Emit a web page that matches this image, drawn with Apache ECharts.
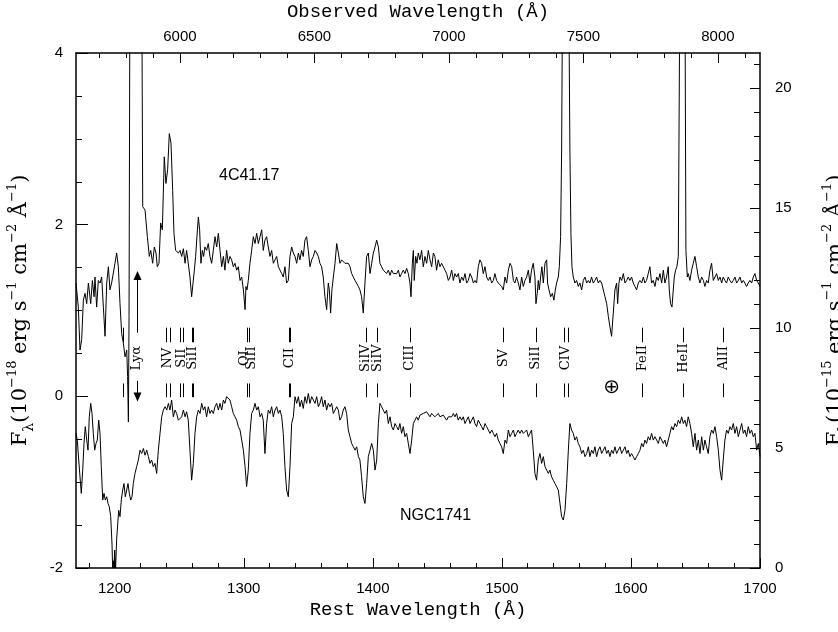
<!DOCTYPE html>
<html><head><meta charset="utf-8">
<script src="https://cdn.jsdelivr.net/npm/echarts@6/dist/echarts.min.js"></script>
<style>html,body{margin:0;padding:0;background:#fff}#c{width:838px;height:632px}</style>
</head><body><div id="c"></div>
<script>
// ---------- axes ----------
const ONE_PLUS_Z = 4.798;
const REST_MIN = 1170, REST_MAX = 1700;
const LEFT_MIN = -2, LEFT_MAX = 4;
const RIGHT_MIN = 0, RIGHT_MAX = 21.46;
const restMajor = [1200,1300,1400,1500,1600,1700];
const restMinor = [1180,1200,1220,1240,1260,1280,1300,1320,1340,1360,1380,1400,1420,1440,1460,1480,1500,1520,1540,1560,1580,1600,1620,1640,1660,1680,1700];
const obsMajor = [6000,6500,7000,7500,8000];
const obsMinor = [5700,5800,5900,6000,6100,6200,6300,6400,6500,6600,6700,6800,6900,7000,7100,7200,7300,7400,7500,7600,7700,7800,7900,8000,8100];
const leftMajor = [-2,0,2,4];
const leftMinor = [-1.5,-1,-0.5,0.5,1,1.5,2.5,3,3.5];
const rightMajor = [0,5,10,15,20];
const rightMinor = [1,2,3,4,6,7,8,9,11,12,13,14,16,17,18,19,21];

// ---------- spectra: [rest wavelength (Å), flux] ----------
// 4C41.17 (left axis, 1e-18)
const spec4C41 = [
[1170.0,1.32],[1171.8,1.04],[1173.1,0.54],[1174.4,0.66],[1175.7,1.12],[1177.0,1.20],[1178.3,1.08],[1179.6,1.32],[1181.4,1.08],[1182.7,1.35],[1184.0,1.16],[1184.7,1.39],[1186.0,1.04],[1187.3,1.35],[1188.6,1.32],[1189.9,1.39],[1191.2,1.04],[1192.5,0.70],[1193.8,1.32],[1195.1,1.51],[1196.3,1.24],[1197.6,1.32],[1198.9,1.32],[1200.2,1.55],[1201.5,1.67],[1202.8,1.51],[1204.1,1.08],[1205.4,0.73],[1206.7,0.62],[1208.0,0.46],[1209.3,0.54],[1210.0,0.23],[1210.6,-0.30],[1211.1,0.93],[1211.9,5.5],[1213.5,9.0],[1216.0,10.0],[1218.5,8.0],[1220.9,5.0],[1221.7,2.21],[1223.5,2.17],[1225.3,1.86],[1226.8,1.63],[1227.9,1.70],[1229.4,1.55],[1230.7,1.74],[1232.0,1.67],[1233.0,1.51],[1234.3,1.55],[1235.6,2.02],[1236.9,1.94],[1238.4,2.79],[1239.7,2.48],[1241.0,2.64],[1242.3,3.06],[1243.6,2.95],[1244.9,2.40],[1245.9,1.90],[1247.2,1.70],
[1249.3,1.67],[1250.6,1.70],[1251.9,1.63],[1253.2,1.72],[1254.5,1.55],[1255.7,1.70],[1257.0,1.55],[1258.3,1.39],[1259.6,1.16],[1260.4,1.14],[1261.7,1.47],[1262.7,1.63],[1263.7,1.86],[1264.8,2.09],[1265.8,1.94],[1266.8,1.55],[1267.9,1.70],[1268.9,1.63],[1269.9,1.74],[1271.2,1.70],[1272.5,1.78],[1273.8,1.63],[1275.1,1.55],[1276.4,1.70],[1277.7,1.86],[1279.0,1.74],[1280.3,1.90],[1281.6,1.70],[1282.9,1.51],[1284.2,1.63],[1285.4,1.47],[1286.7,1.70],[1288.0,1.55],[1289.3,1.63],[1290.6,1.59],[1291.9,1.51],[1293.2,1.55],[1294.5,1.47],[1295.8,1.51],[1297.1,1.35],[1298.4,1.39],[1299.7,1.24],[1301.0,1.01],[1301.7,1.28],[1302.5,1.24],[1303.5,1.35],[1304.8,1.55],[1306.1,1.70],[1307.4,1.86],[1308.7,1.78],[1310.0,1.90],[1311.3,1.78],[1312.6,1.86],[1313.9,1.94],[1315.1,1.70],[1316.4,1.82],[1317.7,1.86],[1319.0,1.74],[1320.3,1.63],[1321.6,1.70],[1322.9,1.55],[1324.2,1.59],[1325.5,1.63],[1326.8,1.51],[1328.1,1.47],[1329.4,1.43],[1330.6,1.39],[1331.9,1.51],[1333.2,1.32],[1334.5,1.35],[1335.8,1.63],[1337.1,1.74],[1338.4,1.67],
[1339.7,1.63],[1341.0,1.55],[1342.3,1.67],[1343.5,1.59],[1344.8,1.70],[1346.1,1.63],[1347.4,1.82],[1348.7,1.86],[1350.0,1.70],[1351.3,1.51],[1352.6,1.59],[1353.9,1.63],[1355.2,1.70],[1356.5,1.67],[1357.8,1.63],[1359.0,1.55],[1360.3,1.51],[1361.6,1.39],[1362.9,1.16],[1364.2,1.01],[1365.5,1.32],[1366.3,1.24],[1367.3,0.97],[1368.3,1.24],[1369.4,1.39],[1370.7,1.55],[1372.0,1.78],[1373.3,1.67],[1374.5,1.55],[1375.8,1.59],[1377.1,1.59],[1378.4,1.55],[1379.7,1.57],[1381.0,1.55],[1382.3,1.51],[1383.6,1.43],[1384.9,1.39],[1386.2,1.35],[1387.5,1.35],[1388.8,1.28],[1390.0,1.24],[1391.3,1.16],[1392.6,0.97],[1393.9,1.32],[1395.2,1.63],[1396.5,1.67],[1397.8,1.43],[1399.1,1.55],[1400.4,1.67],[1401.7,1.74],[1403.0,1.82],[1404.3,1.74],[1405.5,1.55],[1406.8,1.51],[1408.1,1.47],[1409.4,1.47],[1410.7,1.43],[1412.0,1.47],[1413.3,1.41],[1414.6,1.47],[1415.9,1.43],[1417.2,1.45],[1418.5,1.43],[1419.8,1.47],[1421.0,1.39],[1422.3,1.43],[1423.6,1.47],[1424.9,1.43],[1426.2,1.49],[1427.5,1.43],
[1428.8,1.32],[1429.6,1.16],[1430.6,1.55],[1431.4,1.70],[1432.1,1.35],[1433.2,1.63],[1434.2,1.55],[1435.2,1.67],[1436.5,1.59],[1437.8,1.70],[1439.1,1.51],[1440.4,1.63],[1441.7,1.55],[1443.0,1.70],[1444.3,1.59],[1445.6,1.51],[1446.9,1.67],[1448.1,1.63],[1449.4,1.47],[1450.7,1.59],[1452.0,1.51],[1453.3,1.55],[1454.6,1.55],[1455.9,1.47],[1457.2,1.43],[1458.5,1.35],[1459.8,1.39],[1461.1,1.47],[1462.4,1.35],[1463.6,1.43],[1464.9,1.39],[1466.2,1.43],[1467.5,1.32],[1468.8,1.39],[1470.1,1.35],[1471.4,1.43],[1472.7,1.32],[1474.0,1.35],[1475.3,1.43],[1476.6,1.39],[1477.9,1.32],[1479.1,1.35],[1480.4,1.32],[1481.7,1.51],[1483.0,1.59],[1484.3,1.55],[1485.6,1.43],[1486.9,1.51],[1488.2,1.39],[1489.5,1.35],[1490.8,1.39],[1492.1,1.32],[1493.4,1.35],[1494.6,1.43],[1495.9,1.35],[1497.2,1.32],[1498.5,1.32],[1499.8,1.28],[1501.1,1.24],[1502.4,1.39],[1503.7,1.32],[1505.0,1.47],[1506.3,1.55],[1507.6,1.51],[1508.9,1.35],[1510.1,1.32],[1511.4,1.39],[1512.7,1.32],[1514.0,1.24],[1515.3,1.39],[1516.6,1.28],
[1517.9,1.35],[1519.2,1.39],[1520.5,1.47],[1521.7,1.32],[1523.0,1.47],[1524.3,1.55],[1525.6,1.39],[1526.4,1.08],[1527.4,1.20],[1528.2,1.35],[1529.0,1.24],[1530.0,1.39],[1531.0,1.51],[1532.1,1.32],[1533.4,1.55],[1534.7,1.59],[1535.4,1.32],[1536.5,1.24],[1537.8,1.16],[1539.1,1.20],[1540.3,1.12],[1541.4,1.24],[1542.4,1.32],[1543.7,1.39],[1544.5,1.51],[1545.5,1.86],[1546.3,2.87],[1547.1,5.0],[1549.5,9.0],[1551.7,5.0],[1552.7,2.87],[1553.5,1.90],[1554.3,1.51],[1555.3,1.39],[1556.6,1.32],[1557.9,1.35],[1559.2,1.28],[1560.5,1.32],[1561.8,1.24],[1563.1,1.35],[1564.4,1.39],[1565.7,1.32],[1567.0,1.35],[1568.2,1.32],[1569.5,1.39],[1570.8,1.32],[1572.1,1.35],[1573.4,1.39],[1574.7,1.32],[1576.0,1.35],[1577.3,1.32],[1578.6,1.24],[1579.9,1.16],[1581.2,1.08],[1582.5,0.93],[1583.7,0.81],[1585.0,0.70],[1586.3,0.97],[1587.6,1.24],[1588.9,1.32],[1589.7,1.08],[1590.7,1.32],[1591.5,1.39],[1592.8,1.35],[1594.1,1.43],[1595.4,1.32],[1596.7,1.35],[1597.9,1.39],[1599.2,1.35],[1600.5,1.39],[1601.8,1.32],[1603.1,1.28],[1604.4,1.24],[1605.7,1.32],
[1607.0,1.35],[1608.3,1.32],[1609.6,1.39],[1610.8,1.32],[1612.1,1.35],[1613.4,1.43],[1614.7,1.51],[1616.0,1.32],[1617.3,1.35],[1618.6,1.28],[1619.9,1.39],[1621.2,1.35],[1622.5,1.43],[1623.8,1.32],[1625.1,1.47],[1626.3,1.32],[1627.6,1.39],[1628.9,1.51],[1629.7,1.24],[1630.7,1.08],[1631.8,1.04],[1632.8,1.24],[1633.6,1.39],[1634.6,1.47],[1635.6,1.51],[1636.7,1.63],[1638.0,5.0],[1640.0,9.0],[1641.8,5.0],[1642.6,1.70],[1643.7,1.39],[1644.4,1.43],[1645.7,1.35],[1647.0,1.47],[1648.3,1.55],[1649.6,1.63],[1650.9,1.51],[1652.2,1.39],[1653.5,1.32],[1654.8,1.39],[1656.1,1.35],[1657.3,1.28],[1658.6,1.35],[1659.9,1.32],[1661.2,1.47],[1662.5,1.55],[1663.8,1.35],[1665.1,1.39],[1666.4,1.43],[1667.7,1.35],[1669.0,1.39],[1670.3,1.32],[1671.5,1.39],[1672.8,1.35],[1674.1,1.32],[1675.4,1.39],[1676.7,1.35],[1678.0,1.32],[1679.3,1.35],[1680.6,1.39],[1681.9,1.32],[1683.2,1.35],[1684.5,1.39],[1685.8,1.32],[1687.1,1.35],[1688.3,1.32],[1689.6,1.28],[1690.9,1.32],[1692.2,1.35],[1693.5,1.32],[1694.8,1.39],[1696.1,1.43],[1697.4,1.35],[1698.7,1.32],[1700.0,1.28]
];

// NGC1741 (right axis, 1e-15)
const specNGC1741 = [
[1170.0,5.61],[1171.0,5.33],[1172.1,4.50],[1173.1,3.80],[1174.1,3.11],[1175.2,4.08],[1176.2,5.19],[1177.2,5.89],[1178.3,5.33],[1179.3,4.91],[1180.3,6.30],[1181.4,6.86],[1182.4,6.44],[1183.4,5.61],[1184.5,4.91],[1185.5,5.19],[1186.5,5.33],[1187.6,6.16],[1188.6,5.61],[1189.6,4.22],[1190.7,2.83],[1191.7,3.11],[1192.7,2.83],[1193.8,2.97],[1194.8,2.69],[1195.8,2.55],[1196.9,2.14],[1197.9,1.00],[1198.4,0.00],[1198.9,0.30],[1199.4,0.00],[1200.0,0.75],[1200.7,0.00],[1201.5,1.20],[1202.0,1.58],[1203.1,2.41],[1204.1,2.14],[1205.1,2.83],[1206.2,3.25],[1207.2,3.52],[1208.2,2.97],[1209.3,3.25],[1210.3,3.52],[1211.3,3.11],[1212.4,2.83],[1213.4,2.97],[1214.4,3.52],[1215.7,3.94],[1217.0,4.22],[1218.3,4.50],[1219.6,4.91],[1220.9,4.77],[1222.2,4.98],[1223.5,4.70],[1224.8,4.91],[1226.1,4.64],[1227.3,4.36],[1228.6,4.50],[1229.9,4.22],[1231.2,4.36],[1232.5,3.94],[1233.8,4.91],[1235.1,5.61],[1236.4,6.30],[1237.7,6.58],[1239.0,6.72],[1240.3,6.58],[1241.6,6.86],[1242.8,6.58],[1244.1,7.00],[1245.4,6.30],[1246.7,6.58],[1248.0,6.44],[1249.3,6.16],
[1250.6,6.16],[1251.9,6.30],[1253.2,6.58],[1254.5,6.30],[1255.7,6.51],[1257.0,6.16],[1258.3,4.91],[1259.6,3.66],[1260.9,4.36],[1262.2,5.61],[1263.5,6.30],[1264.8,6.58],[1266.1,6.44],[1267.4,6.86],[1268.7,6.58],[1269.9,6.72],[1271.2,6.30],[1272.5,6.72],[1273.8,6.44],[1275.1,6.58],[1276.4,6.44],[1277.7,6.72],[1279.0,6.86],[1280.3,6.58],[1281.6,6.86],[1282.9,6.58],[1284.2,7.00],[1285.4,6.86],[1286.7,7.14],[1288.0,7.20],[1289.3,7.00],[1290.6,6.72],[1291.9,6.44],[1293.2,6.30],[1294.5,6.16],[1295.8,5.89],[1297.1,5.75],[1298.4,5.33],[1299.7,4.91],[1301.0,4.22],[1302.2,3.39],[1303.5,4.08],[1304.8,5.61],[1306.1,6.44],[1307.4,6.58],[1308.7,6.86],[1310.0,6.58],[1311.3,6.72],[1312.6,6.30],[1313.9,6.44],[1315.1,6.16],[1316.4,4.77],[1317.7,6.02],[1319.0,6.58],[1320.3,6.44],[1321.6,6.72],[1322.9,6.30],[1324.2,6.58],[1325.5,6.72],[1326.8,6.44],[1328.1,6.58],[1329.4,6.30],[1330.6,5.61],[1331.9,4.22],[1333.2,3.25],[1334.5,2.97],[1335.8,4.22],[1337.1,6.02],[1338.4,6.30],
[1339.7,7.14],[1341.0,6.86],[1342.3,7.14],[1343.5,6.72],[1344.8,7.00],[1346.1,6.65],[1347.4,7.14],[1348.7,6.86],[1350.0,7.27],[1351.3,6.86],[1352.6,7.14],[1353.9,7.20],[1355.2,6.86],[1356.5,7.14],[1357.8,6.72],[1359.0,6.86],[1360.3,7.14],[1361.6,6.72],[1362.9,7.00],[1364.2,6.58],[1365.5,6.86],[1366.8,6.72],[1368.1,6.86],[1369.4,6.44],[1370.7,6.58],[1372.0,6.72],[1373.3,6.58],[1374.5,6.16],[1375.8,6.30],[1377.1,6.58],[1378.4,6.72],[1379.7,6.44],[1381.0,5.75],[1382.3,5.47],[1383.6,5.19],[1384.9,5.05],[1386.2,4.91],[1387.5,5.05],[1388.8,4.64],[1390.0,4.50],[1391.3,3.80],[1392.6,2.97],[1393.9,2.69],[1395.2,3.52],[1396.5,4.64],[1397.8,4.91],[1399.1,5.19],[1400.4,4.91],[1401.7,4.08],[1403.0,4.50],[1404.3,6.02],[1405.5,6.86],[1406.8,6.72],[1408.1,6.58],[1409.4,6.44],[1410.7,6.58],[1412.0,6.02],[1413.3,6.30],[1414.6,5.89],[1415.9,5.75],[1417.2,6.02],[1418.5,5.89],[1419.8,5.75],[1421.0,6.02],[1422.3,5.61],[1423.6,5.89],[1424.9,5.47],[1426.2,5.61],
[1427.5,5.19],[1428.8,4.77],[1430.1,5.33],[1431.4,6.02],[1432.7,6.16],[1433.9,6.30],[1435.2,6.16],[1436.5,6.37],[1437.8,6.30],[1439.1,6.44],[1440.4,6.37],[1441.7,6.51],[1443.0,6.44],[1444.3,6.30],[1445.6,6.44],[1446.9,6.37],[1448.1,6.30],[1449.4,6.30],[1450.7,6.44],[1452.0,6.30],[1453.3,6.23],[1454.6,6.37],[1455.9,6.30],[1457.2,6.16],[1458.5,6.30],[1459.8,6.23],[1461.1,6.30],[1462.4,6.44],[1463.6,6.30],[1464.9,6.44],[1466.2,6.16],[1467.5,6.30],[1468.8,6.16],[1470.1,6.30],[1471.4,6.02],[1472.7,6.16],[1474.0,6.30],[1475.3,6.02],[1476.6,6.16],[1477.9,6.30],[1479.1,6.02],[1480.4,5.89],[1481.7,6.16],[1483.0,6.02],[1484.3,5.89],[1485.6,5.75],[1486.9,6.02],[1488.2,5.89],[1489.5,5.75],[1490.8,5.61],[1492.1,5.75],[1493.4,5.61],[1494.6,5.47],[1495.9,5.61],[1497.2,5.33],[1498.5,5.19],[1499.8,5.05],[1501.1,4.77],[1502.4,5.33],[1503.7,5.19],[1505.0,5.75],[1506.3,5.47],[1507.6,5.61],[1508.9,5.75],[1510.1,5.47],[1511.4,5.61],[1512.7,5.75],[1514.0,5.61],[1515.3,5.75],[1516.6,5.61],
[1517.9,5.61],[1519.2,5.75],[1520.5,5.47],[1521.7,5.61],[1523.0,5.75],[1524.3,4.91],[1525.6,3.94],[1526.9,3.66],[1528.2,4.50],[1529.5,4.77],[1530.8,4.36],[1532.1,4.64],[1533.4,4.22],[1534.7,4.08],[1536.0,3.94],[1537.2,4.08],[1538.5,3.80],[1539.8,3.66],[1541.1,3.52],[1542.4,3.52],[1543.7,3.25],[1545.0,2.69],[1546.3,2.14],[1547.6,2.00],[1548.9,2.41],[1550.2,3.52],[1551.5,4.91],[1552.7,6.02],[1554.0,5.75],[1555.3,5.61],[1556.6,5.33],[1557.9,5.47],[1559.2,5.19],[1560.5,5.05],[1561.8,4.77],[1563.1,4.91],[1564.4,4.64],[1565.7,4.77],[1567.0,5.05],[1568.2,4.64],[1569.5,4.91],[1570.8,4.77],[1572.1,5.05],[1573.4,4.64],[1574.7,4.91],[1576.0,5.05],[1577.3,4.77],[1578.6,4.91],[1579.9,5.05],[1581.2,4.77],[1582.5,4.91],[1583.7,4.64],[1585.0,4.91],[1586.3,4.77],[1587.6,5.05],[1588.9,4.77],[1590.2,4.91],[1591.5,5.05],[1592.8,4.77],[1594.1,4.91],[1595.4,5.05],[1596.7,4.77],[1597.9,4.91],[1599.2,4.64],[1600.5,4.77],[1601.8,4.64],[1603.1,4.50],[1604.4,4.64],[1605.7,4.77],
[1607.0,4.91],[1608.3,5.19],[1609.6,5.05],[1610.8,5.33],[1612.1,5.19],[1613.4,5.47],[1614.7,5.33],[1616.0,5.61],[1617.3,5.33],[1618.6,5.47],[1619.9,5.33],[1621.2,5.19],[1622.5,5.47],[1623.8,5.33],[1625.1,5.19],[1626.3,5.33],[1627.6,5.05],[1628.9,5.33],[1630.2,5.61],[1631.5,5.89],[1632.8,5.75],[1634.1,6.02],[1635.4,5.89],[1636.7,6.16],[1638.0,6.02],[1639.3,6.30],[1640.6,6.02],[1641.8,6.16],[1643.1,5.89],[1644.4,6.30],[1645.7,6.02],[1647.0,5.61],[1648.3,5.05],[1649.6,5.61],[1650.9,4.91],[1652.2,5.33],[1653.5,4.77],[1654.8,5.47],[1656.1,4.91],[1657.3,5.33],[1658.6,5.05],[1659.9,4.77],[1661.2,5.47],[1662.5,5.75],[1663.8,5.61],[1665.1,5.89],[1666.4,5.47],[1667.7,4.91],[1669.0,4.08],[1670.3,3.66],[1671.5,4.50],[1672.8,5.33],[1674.1,5.75],[1675.4,5.61],[1676.7,5.89],[1678.0,5.75],[1679.3,6.02],[1680.6,5.61],[1681.9,5.89],[1683.2,5.47],[1684.5,5.75],[1685.8,6.02],[1687.1,5.61],[1688.3,5.75],[1689.6,5.47],[1690.9,5.89],[1692.2,5.61],[1693.5,5.75],[1694.8,5.47],[1696.1,5.61],[1697.4,4.91],[1698.7,5.19],[1700.0,4.64]
];

// ---------- line identifications ----------
const lineTickWaves = [1206.6,1239.7,1242.8,1250.6,1253.2,1259.9,1260.7,1302.4,1304.2,1335.3,1336.1,1394.7,1403.5,1428.8,1501.1,1526.4,1548.4,1551.0,1608.8,1640.6,1671.5];
const lineLabelTexts = ['Lyα','NV','SII','SiII','OI','SiII','CII','SiIV','SiIV','CIII','SV','SiII','CIV','FeII','HeII','AlII'];
const lineLabelWaves = [1216.8,1241.2,1251.9,1260.3,1300.4,1306.1,1335.7,1394.7,1403.5,1428.8,1501.1,1526.4,1549.7,1608.8,1640.6,1671.5];
const lyaArrowWave = 1217.4;
const telluricWave = 1585.0;
// positions (left-axis units) of the ID marks
const TICK_UP = [0.63, 0.80];
const TICK_LO = [-0.01, 0.15];
const LABEL_Y = 0.445;
const ARROW_UP = [0.74, 1.46];
const ARROW_LO = [0.18, -0.06];
const TELLURIC_Y = 0.10;

const chart = echarts.init(document.getElementById('c'), null, {renderer:'canvas', width:838, height:632});
const K = '#000';
const sans = 'Liberation Sans, Arial, sans-serif';
const mono = 'Liberation Mono, Courier New, monospace';
const serif = 'DejaVu Serif, Liberation Serif, serif';
const plain = v => String(v);

function axis(o){
  return Object.assign({
    type:'value', splitLine:{show:false}, axisPointer:{show:false},
    axisLine:{show:false, onZero:false, lineStyle:{color:K, width:1.5}},
    axisLabel:{show:false}
  }, o);
}
const fluxName = (exp) => '{m|F}{s|λ}{m|(10}{p|−' + exp + '}{m| erg s}{p|−1}{m| cm}{p|−2}{m| Å}{p|−1}{m|)}';
const richName = {
  m:{fontFamily:serif, fontSize:21, lineHeight:30, color:K},
  p:{fontFamily:serif, fontSize:13, lineHeight:16, verticalAlign:'top', color:K},
  s:{fontFamily:serif, fontSize:14, lineHeight:16, verticalAlign:'bottom', color:K}
};

const option = {
  animation:false,
  backgroundColor:'#fff',
  grid:{left:76, right:78, top:53, bottom:64, containLabel:false, outerBoundsMode:'none'},
  xAxis:[
    axis({position:'bottom', min:REST_MIN, max:REST_MAX,
      axisLine:{show:true, onZero:false, lineStyle:{color:K, width:1.5}},
      axisTick:{show:true, inside:true, length:10, customValues:restMajor, lineStyle:{color:K, width:1}},
      axisLabel:{show:true, customValues:restMajor, formatter:plain, color:K, fontFamily:sans, fontSize:15, margin:13},
      name:'Rest Wavelength (Å)', nameLocation:'middle', nameGap:31,
      nameTextStyle:{fontFamily:mono, fontSize:19, color:K}}),
    axis({position:'bottom', min:REST_MIN, max:REST_MAX,
      axisTick:{show:true, inside:true, length:5, customValues:restMinor, lineStyle:{color:K, width:1}}}),
    axis({position:'top', min:REST_MIN*ONE_PLUS_Z, max:REST_MAX*ONE_PLUS_Z,
      axisLine:{show:true, onZero:false, lineStyle:{color:K, width:1.5}},
      axisTick:{show:true, inside:true, length:10, customValues:obsMajor, lineStyle:{color:K, width:1}},
      axisLabel:{show:true, customValues:obsMajor, formatter:plain, color:K, fontFamily:sans, fontSize:15, margin:9},
      name:'Observed Wavelength (Å)', nameLocation:'middle', nameGap:32,
      nameTextStyle:{fontFamily:mono, fontSize:19, color:K}}),
    axis({position:'top', min:REST_MIN*ONE_PLUS_Z, max:REST_MAX*ONE_PLUS_Z,
      axisTick:{show:true, inside:true, length:5, customValues:obsMinor, lineStyle:{color:K, width:1}}})
  ],
  yAxis:[
    axis({position:'left', min:LEFT_MIN, max:LEFT_MAX,
      axisLine:{show:true, onZero:false, lineStyle:{color:K, width:1.5}},
      axisTick:{show:true, inside:true, length:12, customValues:leftMajor, lineStyle:{color:K, width:1}},
      axisLabel:{show:true, customValues:leftMajor, formatter:plain, color:K, fontFamily:sans, fontSize:15, margin:13},
      name:fluxName('18'), nameLocation:'middle', nameGap:40, nameRotate:90,
      nameTextStyle:{rich:richName}}),
    axis({position:'right', min:RIGHT_MIN, max:RIGHT_MAX,
      axisLine:{show:true, onZero:false, lineStyle:{color:K, width:1.5}},
      axisTick:{show:true, inside:true, length:10, customValues:rightMajor, lineStyle:{color:K, width:1}},
      axisLabel:{show:true, customValues:rightMajor, formatter:plain, color:K, fontFamily:sans, fontSize:15, margin:15},
      name:fluxName('15'), nameLocation:'middle', nameGap:61, nameRotate:90,
      nameTextStyle:{rich:richName}}),
    axis({position:'left', min:LEFT_MIN, max:LEFT_MAX,
      axisTick:{show:true, inside:true, length:6, customValues:leftMinor, lineStyle:{color:K, width:1}}}),
    axis({position:'right', min:RIGHT_MIN, max:RIGHT_MAX,
      axisTick:{show:true, inside:true, length:6, customValues:rightMinor, lineStyle:{color:K, width:1}}})
  ],
  series:[
    {name:'4C41.17', type:'line', xAxisIndex:0, yAxisIndex:0, data:spec4C41, showSymbol:false, symbol:'none',
     clip:true, lineStyle:{color:K, width:1}, silent:true},
    {name:'NGC1741', type:'line', xAxisIndex:0, yAxisIndex:1, data:specNGC1741, showSymbol:false, symbol:'none',
     clip:true, lineStyle:{color:K, width:1}, silent:true},
    {type:'custom', xAxisIndex:0, yAxisIndex:0, silent:true,
     data:lineTickWaves.map(w => [w, 0]),
     renderItem:(params, api) => {
       const w = api.value(0);
       const a = api.coord([w, TICK_UP[0]]), b = api.coord([w, TICK_UP[1]]);
       const c = api.coord([w, TICK_LO[0]]), d = api.coord([w, TICK_LO[1]]);
       const st = {stroke:K, lineWidth:1};
       return {type:'group', children:[
         {type:'line', shape:{x1:Math.round(a[0])+0.5, y1:a[1], x2:Math.round(b[0])+0.5, y2:b[1]}, style:st},
         {type:'line', shape:{x1:Math.round(c[0])+0.5, y1:c[1], x2:Math.round(d[0])+0.5, y2:d[1]}, style:st}
       ]};
     }},
    {type:'custom', xAxisIndex:0, yAxisIndex:0, silent:true,
     data:lineLabelWaves.map(w => [w, LABEL_Y]),
     renderItem:(params, api) => {
       const p = api.coord([api.value(0), api.value(1)]);
       return {type:'text', x:p[0], y:p[1], rotation:Math.PI/2,
         style:{text:lineLabelTexts[params.dataIndex], font:'13px ' + serif, fill:K, align:'center', verticalAlign:'middle'}};
     }},
    {type:'custom', xAxisIndex:0, yAxisIndex:0, silent:true,
     data:[[lyaArrowWave, 0]],
     renderItem:(params, api) => {
       const w = api.value(0);
       const u0 = api.coord([w, ARROW_UP[0]]), u1 = api.coord([w, ARROW_UP[1]]);
       const l0 = api.coord([w, ARROW_LO[0]]), l1 = api.coord([w, ARROW_LO[1]]);
       const x = Math.round(u0[0]) + 0.5;
       const st = {stroke:K, lineWidth:1};
       return {type:'group', children:[
         {type:'line', shape:{x1:x, y1:u0[1], x2:x, y2:u1[1]+6}, style:st},
         {type:'polygon', shape:{points:[[x, u1[1]], [x-4, u1[1]+9], [x+4, u1[1]+9]]}, style:{fill:K}},
         {type:'line', shape:{x1:x, y1:l0[1], x2:x, y2:l1[1]-6}, style:st},
         {type:'polygon', shape:{points:[[x, l1[1]], [x-4, l1[1]-9], [x+4, l1[1]-9]]}, style:{fill:K}}
       ]};
     }},
    {type:'custom', xAxisIndex:0, yAxisIndex:0, silent:true,
     data:[[telluricWave, TELLURIC_Y]],
     renderItem:(params, api) => {
       const p = api.coord([api.value(0), api.value(1)]);
       return {type:'text', x:p[0], y:p[1],
         style:{text:'⊕', font:'20px DejaVu Sans', fill:K, align:'center', verticalAlign:'middle'}};
     }}
  ],
  graphic:[
    {type:'text', left:219, top:168, style:{text:'4C41.17', font:'16px ' + sans, fill:K}},
    {type:'text', left:400, top:508, style:{text:'NGC1741', font:'16px ' + sans, fill:K}}
  ]
};
chart.setOption(option);
</script>
</body></html>
